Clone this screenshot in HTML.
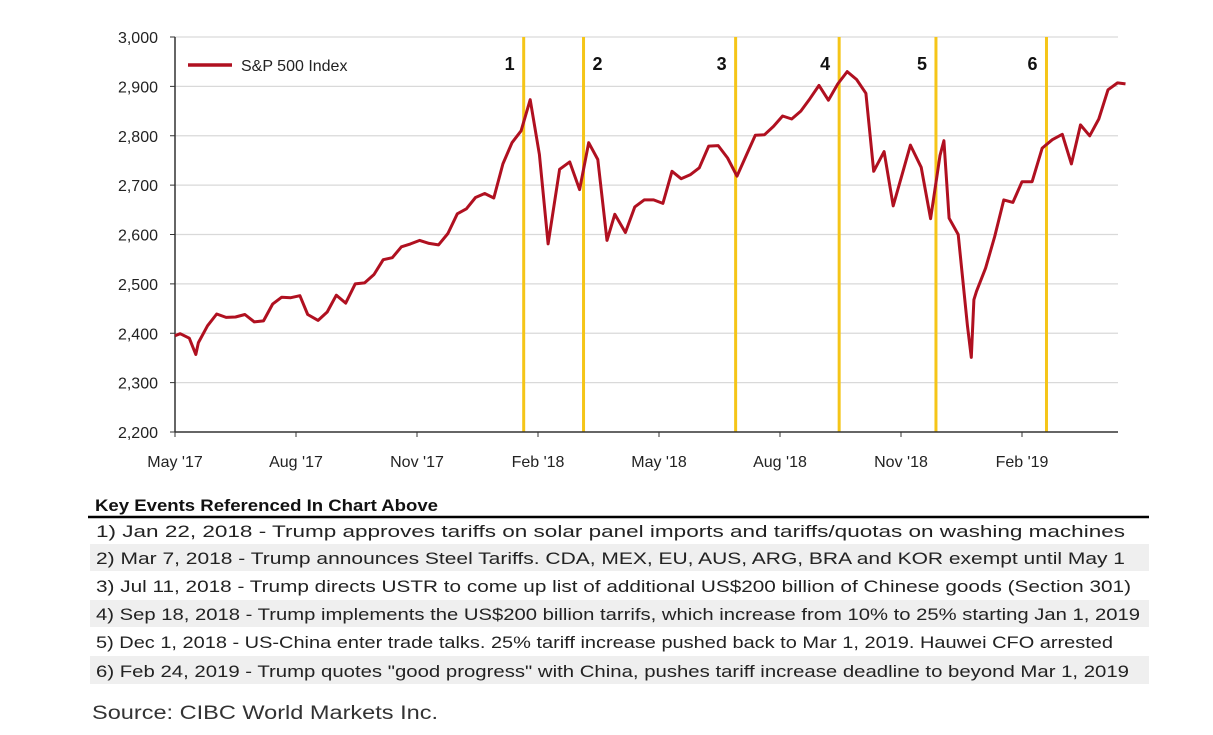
<!DOCTYPE html>
<html><head><meta charset="utf-8"><style>
html,body{margin:0;padding:0;background:#fff;}
svg{display:block;font-family:"Liberation Sans",sans-serif;}
</style></head><body>
<svg id="chart" width="1213" height="735" viewBox="0 0 1213 735" xmlns="http://www.w3.org/2000/svg">
<g id="grid"></g>
<g id="events"></g>
<g id="axes"></g>
<g id="series"></g>
<g>
<line x1="188" y1="65" x2="232" y2="65" stroke="#b01020" stroke-width="3.5"/>
<text x="241" y="71" font-size="16" fill="#222">S&amp;P 500 Index</text>
</g>
<g>
<text x="95" y="511" font-size="17" font-weight="bold" fill="#111" textLength="343" lengthAdjust="spacingAndGlyphs">Key Events Referenced In Chart Above</text>
<line x1="88" y1="517" x2="1149" y2="517" stroke="#000" stroke-width="2.5"/>
<rect x="90" y="544" width="1059" height="27" fill="#efefef"/>
<rect x="90" y="600" width="1059" height="27" fill="#efefef"/>
<rect x="90" y="656" width="1059" height="28" fill="#efefef"/>
<g font-size="17" fill="#222">
<text x="96" y="537" textLength="1029" lengthAdjust="spacingAndGlyphs">1) Jan 22, 2018 - Trump approves tariffs on solar panel imports and tariffs/quotas on washing machines</text>
<text x="96" y="564" textLength="1029" lengthAdjust="spacingAndGlyphs">2) Mar 7, 2018 - Trump announces Steel Tariffs. CDA, MEX, EU, AUS, ARG, BRA and KOR exempt until May 1</text>
<text x="96" y="592" textLength="1035" lengthAdjust="spacingAndGlyphs">3) Jul 11, 2018 - Trump directs USTR to come up list of additional US$200 billion of Chinese goods (Section 301)</text>
<text x="96" y="620" textLength="1044" lengthAdjust="spacingAndGlyphs">4) Sep 18, 2018 - Trump implements the US$200 billion tarrifs, which increase from 10% to 25% starting Jan 1, 2019</text>
<text x="96" y="648" textLength="1017" lengthAdjust="spacingAndGlyphs">5) Dec 1, 2018 - US-China enter trade talks. 25% tariff increase pushed back to Mar 1, 2019. Hauwei CFO arrested</text>
<text x="96" y="677" textLength="1033" lengthAdjust="spacingAndGlyphs">6) Feb 24, 2019 - Trump quotes "good progress" with China, pushes tariff increase deadline to beyond Mar 1, 2019</text>
</g>
<text x="92" y="719" font-size="19" fill="#333" textLength="346" lengthAdjust="spacingAndGlyphs">Source: CIBC World Markets Inc.</text>
</g>
</svg>
<script>
const dates = ["2017-05-01","2017-05-05","2017-05-12","2017-05-17","2017-05-19","2017-05-26","2017-06-02","2017-06-09","2017-06-16","2017-06-23","2017-06-30","2017-07-07","2017-07-14","2017-07-21","2017-07-28","2017-08-04","2017-08-10","2017-08-18","2017-08-25","2017-09-01","2017-09-08","2017-09-15","2017-09-22","2017-09-29","2017-10-06","2017-10-13","2017-10-20","2017-10-27","2017-11-03","2017-11-10","2017-11-17","2017-11-24","2017-12-01","2017-12-08","2017-12-15","2017-12-22","2017-12-29","2018-01-05","2018-01-12","2018-01-19","2018-01-26","2018-02-02","2018-02-08","2018-02-16","2018-02-23","2018-03-02","2018-03-09","2018-03-16","2018-03-23","2018-03-29","2018-04-06","2018-04-13","2018-04-20","2018-04-27","2018-05-04","2018-05-11","2018-05-18","2018-05-25","2018-06-01","2018-06-08","2018-06-15","2018-06-22","2018-06-29","2018-07-06","2018-07-13","2018-07-20","2018-07-27","2018-08-03","2018-08-10","2018-08-17","2018-08-24","2018-08-31","2018-09-07","2018-09-14","2018-09-21","2018-09-28","2018-10-05","2018-10-11","2018-10-19","2018-10-26","2018-11-02","2018-11-08","2018-11-16","2018-11-23","2018-11-30","2018-12-03","2018-12-07","2018-12-14","2018-12-21","2018-12-24","2018-12-26","2018-12-28","2019-01-04","2019-01-11","2019-01-18","2019-01-25","2019-02-01","2019-02-08","2019-02-15","2019-02-22","2019-03-01","2019-03-08","2019-03-15","2019-03-22","2019-03-29","2019-04-05","2019-04-12","2019-04-18"];
const values = [2395,2399,2390,2357,2381,2415,2439,2432,2433,2438,2423,2425,2459,2473,2472,2476,2438,2426,2443,2477,2461,2500,2502,2519,2549,2553,2575,2581,2588,2582,2579,2602,2642,2652,2675,2683,2674,2743,2786,2810,2873,2762,2581,2732,2747,2691,2786,2752,2588,2641,2604,2656,2670,2670,2663,2728,2713,2721,2735,2779,2780,2755,2718,2760,2801,2802,2819,2840,2834,2850,2875,2902,2872,2905,2930,2914,2886,2728,2768,2658,2723,2781,2736,2632,2760,2790,2633,2600,2416,2351,2468,2485,2532,2596,2670,2665,2707,2707,2775,2792,2803,2743,2822,2800,2834,2893,2907,2905];
const yTicks = [2200,2300,2400,2500,2600,2700,2800,2900,3000];
const xTickDates = ["2017-05-01","2017-08-01","2017-11-01","2018-02-01","2018-05-01","2018-08-01","2018-11-01","2019-02-01"];
const xTickLabels = ["May '17","Aug '17","Nov '17","Feb '18","May '18","Aug '18","Nov '18","Feb '19"];
const eventDates = ["2018-01-21","2018-03-05","2018-06-28","2018-09-15","2018-11-27","2019-02-18"];
const eventLabels = ["1","2","3","4","5","6"];
const eventLabelSide = [-1,1,-1,-1,-1,-1];

const NS="http://www.w3.org/2000/svg";
const X0=175, XR=1118, YT=37, YB=432, PXM=121/3;
function months(d){const p=d.split("-").map(Number);const dim=new Date(p[0],p[1],0).getDate();return (p[0]-2017)*12+(p[1]-5)+(p[2]-1)/dim;}
function xs(d){return X0+months(d)*PXM;}
function ys(v){return YB-(v-2200)/800*(YB-YT);}
function mk(tag,attrs,parent){const e=document.createElementNS(NS,tag);for(const k in attrs)e.setAttribute(k,attrs[k]);parent.appendChild(e);return e;}
const grid=document.getElementById("grid"),axes=document.getElementById("axes"),ev=document.getElementById("events"),ser=document.getElementById("series");

yTicks.forEach(v=>{
  if(v>2200){const g=mk("line",{x1:X0,x2:XR,y1:ys(v),y2:ys(v),stroke:"#d9d9d9","stroke-width":1.2},grid);
  
  }
  const t=mk("line",{x1:X0-5,x2:X0,y1:ys(v),y2:ys(v),stroke:"#333","stroke-width":1},axes);
  
  
  const l=mk("text",{x:158,y:ys(v)+6,"text-anchor":"end","font-size":16,fill:"#222"},axes);
  l.textContent=v.toLocaleString("en-US");
  
  
});
const ya=mk("line",{x1:X0,x2:X0,y1:YT,y2:YB,stroke:"#333","stroke-width":1.5},axes);


const xa=mk("line",{x1:X0,x2:XR,y1:YB,y2:YB,stroke:"#333","stroke-width":1.5},axes);


xTickDates.forEach((d,i)=>{
  const x=xs(d);
  const t=mk("line",{x1:x,x2:x,y1:YB,y2:YB+5,stroke:"#333","stroke-width":1},axes);
  
  
  const l=mk("text",{x:x,y:YB+35,"text-anchor":"middle","font-size":16,fill:"#222"},axes);
  l.textContent=xTickLabels[i];
  
  
});
eventDates.forEach((d,i)=>{
  const x=xs(d);
  const l=mk("line",{x1:x,x2:x,y1:YT,y2:YB,stroke:"#f5c518","stroke-width":3},ev);
  
  
  const t=mk("text",{x:x+eventLabelSide[i]*14,y:70,"text-anchor":"middle","font-size":18,"font-weight":"bold",fill:"#111"},ev);
  t.textContent=eventLabels[i];
  
  
});
const pts=dates.map((d,i)=>xs(d).toFixed(1)+","+ys(values[i]).toFixed(1)).join(" ");
const pl=mk("polyline",{points:pts,fill:"none",stroke:"#b01020","stroke-width":3,"stroke-linejoin":"round"},ser);


</script>
</body></html>
